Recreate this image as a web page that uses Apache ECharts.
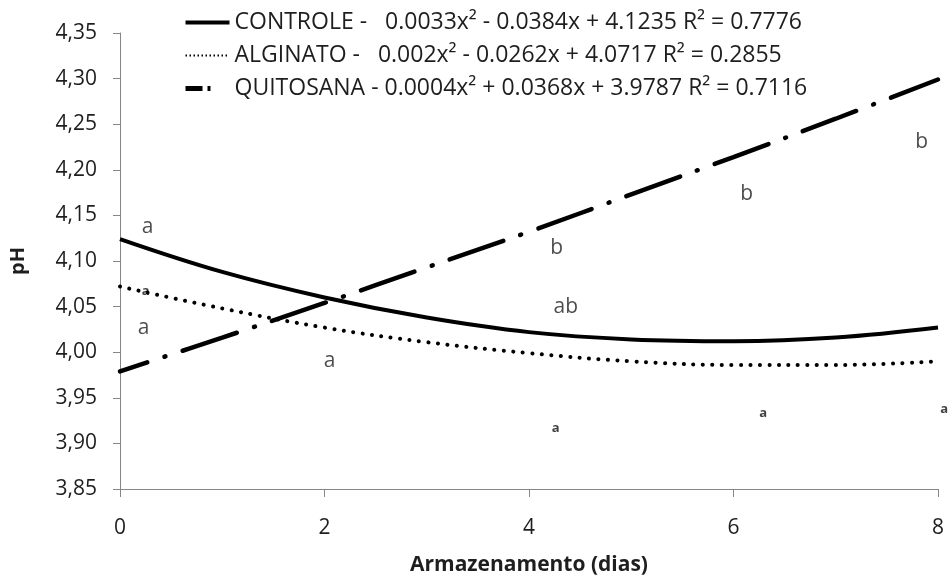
<!DOCTYPE html>
<html>
<head>
<meta charset="utf-8">
<script src="https://cdn.jsdelivr.net/npm/echarts@6/dist/echarts.min.js"></script>
<style>
  html, body { margin: 0; padding: 0; background: #fff; }
  #chart { width: 948px; height: 581px; }
</style>
</head>
<body>
<div id="chart"></div>
<script>
    // dias de armazenamento
    var dias = [0, 1, 2, 3, 4, 5, 6, 7, 8];
    // curvas de tendencia (pH)
    var controle = [4.124, 4.088, 4.060, 4.038, 4.022, 4.014, 4.012, 4.016, 4.027];
    var alginato = [4.072, 4.048, 4.027, 4.011, 3.999, 3.990, 3.986, 3.986, 3.990];
    var quitosana = [3.979, 4.016, 4.054, 4.093, 4.132, 4.173, 4.214, 4.256, 4.299];

    var nomes = ['CONTROLE', 'ALGINATO', 'QUITOSANA'];
    var equacoes = [
        'CONTROLE -   0.0033x\u00b2 - 0.0384x + 4.1235 R\u00b2 = 0.7776',
        'ALGINATO -   0.002x\u00b2 - 0.0262x + 4.0717 R\u00b2 = 0.2855',
        'QUITOSANA - 0.0004x\u00b2 + 0.0368x + 3.9787 R\u00b2 = 0.7116'
    ];

    // letras de significancia (x, pH, letra)
    var letras = [
        [0.27, 4.137, 'a'],
        [0.23, 4.027, 'a'],
        [2.05, 3.990, 'a'],
        [4.27, 4.114, 'b'],
        [4.36, 4.050, 'ab'],
        [6.13, 4.173, 'b'],
        [7.84, 4.231, 'b']
    ];
    var letrasPeq = [
        [0.25, 4.067, 'a'],
        [4.26, 3.917, 'a'],
        [6.29, 3.933, 'a'],
        [8.06, 3.937, 'a']
    ];

    function pares(ys) {
        return dias.map(function (d, i) { return [d, ys[i]]; });
    }

    var chart = echarts.init(document.getElementById('chart'), null, {renderer: 'canvas'});
    var fonte = '"Open Sans", "Noto Sans", sans-serif';
    var cinza = '#868686';
    var semSimbolo = {opacity: 0};

    var option = {
        animation: false,
        textStyle: {fontFamily: fonte, color: '#1e1e1e'},
        grid: {left: 119, right: 10, top: 33, bottom: 92},
        legend: {
            orient: 'vertical',
            left: 178,
            top: 6,
            itemWidth: 44,
            itemHeight: 16,
            itemGap: 10,
            textStyle: {fontSize: 23, color: '#1e1e1e', fontFamily: fonte},
            formatter: function (n) { return equacoes[nomes.indexOf(n)]; },
            data: [
                {name: 'CONTROLE', itemStyle: semSimbolo, lineStyle: {width: 4, type: 'solid'}},
                {name: 'ALGINATO', itemStyle: semSimbolo, lineStyle: {width: 2, type: [1.5, 2.5], dashOffset: 0, cap: 'butt'}},
                {name: 'QUITOSANA', itemStyle: semSimbolo, lineStyle: {width: 5, type: [17, 5, 3, 40], dashOffset: 0, cap: 'butt'}}
            ]
        },
        xAxis: {
            type: 'value',
            min: 0,
            max: 8,
            interval: 2,
            name: 'Armazenamento (dias)',
            nameLocation: 'middle',
            nameGap: 66,
            nameTextStyle: {fontSize: 21, fontWeight: 'bold', color: '#1e1e1e'},
            axisLine: {lineStyle: {color: cinza, width: 1}},
            axisTick: {show: true, length: 8, lineStyle: {color: cinza}},
            axisLabel: {fontSize: 21, margin: 29, color: '#1e1e1e'},
            splitLine: {show: false}
        },
        yAxis: {
            type: 'value',
            min: 3.85,
            max: 4.35,
            interval: 0.05,
            name: 'pH',
            nameLocation: 'middle',
            nameGap: 92,
            nameRotate: 90,
            nameTextStyle: {fontSize: 20, fontWeight: 'bold', color: '#1e1e1e'},
            axisLine: {show: true, lineStyle: {color: cinza, width: 1}},
            axisTick: {show: true, length: 7, lineStyle: {color: cinza}},
            axisLabel: {
                fontSize: 21,
                margin: 23,
                color: '#1e1e1e',
                formatter: function (v) { return v.toFixed(2).replace('.', ','); }
            },
            splitLine: {show: false}
        },
        series: [
            {
                name: 'CONTROLE',
                type: 'line',
                smooth: 0.4,
                symbol: 'none',
                data: pares(controle),
                lineStyle: {color: '#000', width: 4, type: 'solid'},
                itemStyle: {color: '#000'},
                z: 3
            },
            {
                name: 'ALGINATO',
                type: 'line',
                smooth: 0.4,
                symbol: 'none',
                data: pares(alginato),
                lineStyle: {color: '#000', width: 4, type: [0.1, 9.4], cap: 'round'},
                itemStyle: {color: '#000'},
                z: 3
            },
            {
                name: 'QUITOSANA',
                type: 'line',
                smooth: 0.4,
                symbol: 'none',
                data: pares(quitosana),
                lineStyle: {color: '#000', width: 4.5, type: [57, 18, 1, 18], dashOffset: 28, cap: 'round'},
                itemStyle: {color: '#000'},
                z: 3
            },
            {
                type: 'scatter',
                symbolSize: 0,
                clip: false,
                silent: true,
                data: letras,
                label: {
                    show: true,
                    position: 'inside',
                    formatter: function (p) { return p.data[2]; },
                    fontSize: 21,
                    color: '#1e1e1e',
                    fontFamily: fonte
                }
            },
            {
                type: 'scatter',
                symbolSize: 0,
                clip: false,
                silent: true,
                data: letrasPeq,
                label: {
                    show: true,
                    position: 'inside',
                    formatter: function (p) { return p.data[2]; },
                    fontSize: 13,
                    fontWeight: 'bold',
                    color: '#111',
                    fontFamily: fonte
                }
            }
        ]
    };
    chart.setOption(option);
</script>
</body>
</html>
